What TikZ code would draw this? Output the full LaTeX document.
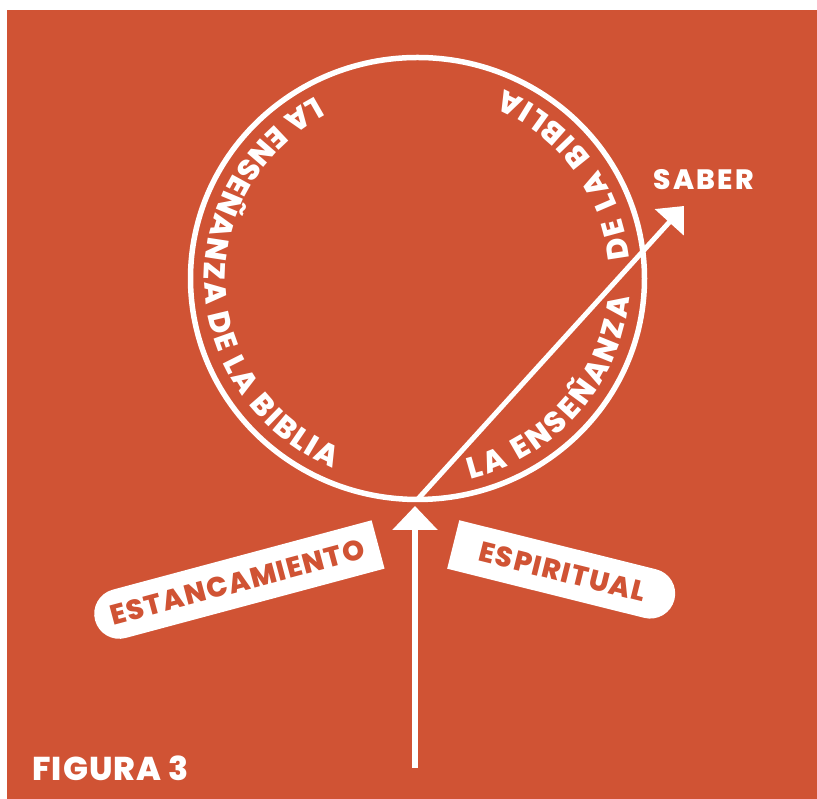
\documentclass[tikz,border=0pt]{standalone}
\usepackage{fontspec}
\setmainfont{Poppins}[BoldFont={Poppins ExtraBold}]
\usetikzlibrary{shapes.geometric,shapes.misc,arrows.meta,decorations.text}
\definecolor{FigOrange}{RGB}{208,83,52}

\begin{document}
\begin{tikzpicture}[x=1pt,y=1pt,
  lbl/.style n args={2}{text=white,font=\bfseries\fontsize{#1}{#1}\selectfont\addfontfeature{LetterSpace=#2}},
  arc txt/.style={decorate,decoration={text along path,text align=fit to path,text color=white,
     text={|\bfseries\fontsize{30}{30}\selectfont|#1}}},
  band/.style={fill=white,text=FigOrange,rounded rectangle,minimum width=#1,minimum height=50,
     inner sep=0pt,font=\bfseries\fontsize{28}{28}\selectfont\addfontfeature{LetterSpace=5}},
  arw/.style={white,line width=#1}]
\useasboundingbox (0,0) rectangle (817,799);
\fill[FigOrange] (7,0) rectangle (817,789);
\node[draw=white,line width=5.5,ellipse,outer sep=0,inner sep=0,
   minimum width=454,minimum height=442] (ring) at (417.5,520.5) {};
% words running round the inside of the ring
\path[arc txt={LA ENSEÑANZA DE LA BIBLIA}] (ring.center) ++(118.5:213 and 207)
   arc[start angle=118.5,end angle=246.5,x radius=213,y radius=207];
\path[arc txt={LA ENSEÑANZA}] (ring.center) ++(-75.5:213 and 207)
   arc[start angle=-75.5,end angle=-5.3,x radius=213,y radius=207];
\path[arc txt={DE LA BIBLIA}] (ring.center) ++(5.5:213 and 207)
   arc[start angle=5.5,end angle=66,x radius=213,y radius=207];
% arrows
\coordinate (foot) at (415,31);
\coordinate (stemtop) at (415,293);
\coordinate (sabertip) at (684,593);
\draw[arw=6,-{Triangle[length=24,width=44]}] (foot) -- (stemtop);
\draw[arw=5,-{Triangle[length=22,width=38]}] (ring.south) -- (sabertip);
\node[lbl={28}{8}] (saber) at (704,619) {SABER};
\node[lbl={33}{3}] (figura) at (110.5,30.5) {FIGURA 3};
% banners
\node[band=293,rounded rectangle right arc=none,rotate=15] (stag) at (237.6,216.9) {ESTANCAMIENTO};
\node[band=228,rounded rectangle left arc=none,rotate=-14] (spirit) at (562.8,227.2) {ESPIRITUAL};
\end{tikzpicture}
\end{document}
